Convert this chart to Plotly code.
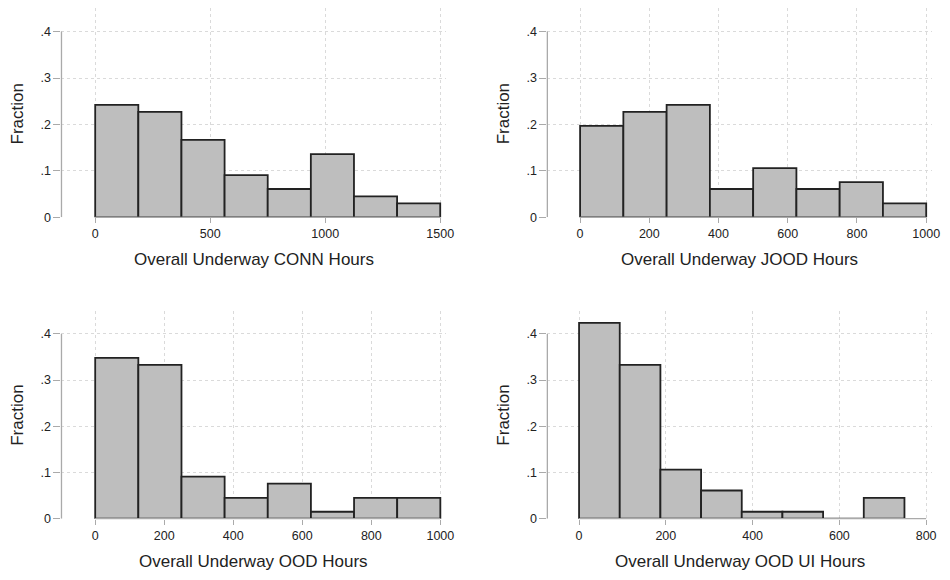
import plotly.graph_objects as go

# ---------------- data ----------------
conn_edges = [0, 187.5, 375, 562.5, 750, 937.5, 1125, 1312.5]
conn_width = 187.5
conn_frac = [0.242, 0.227, 0.167, 0.091, 0.061, 0.136, 0.045, 0.030]

jood_edges = [0, 125, 250, 375, 500, 625, 750, 875]
jood_width = 125
jood_frac = [0.197, 0.227, 0.242, 0.061, 0.106, 0.061, 0.076, 0.030]

ood_edges = [0, 125, 250, 375, 500, 625, 750, 875]
ood_width = 125
ood_frac = [0.348, 0.333, 0.091, 0.045, 0.076, 0.015, 0.045, 0.045]

oodui_edges = [0, 93.75, 187.5, 281.25, 375, 468.75, 562.5, 656.25]
oodui_width = 93.75
oodui_frac = [0.424, 0.333, 0.106, 0.061, 0.015, 0.015, 0.0, 0.045]

y_tickvals = [0, 0.1, 0.2, 0.3, 0.4]
y_ticktext = ["0", ".1", ".2", ".3", ".4"]

conn_xticks = [0, 500, 1000, 1500]
jood_xticks = [0, 200, 400, 600, 800, 1000]
ood_xticks = [0, 200, 400, 600, 800, 1000]
oodui_xticks = [0, 200, 400, 600, 800]

titles = ["Overall Underway CONN Hours", "Overall Underway JOOD Hours",
          "Overall Underway OOD Hours", "Overall Underway OOD UI Hours"]

# ---------------- layout geometry (pixels) ----------------
W, H = 950, 580
panels = [
    dict(edges=conn_edges, w=conn_width, f=conn_frac, xt=conn_xticks,
         xr=[-146.6, 1526], L=62, R=450, T=8, B=220),
    dict(edges=jood_edges, w=jood_width, f=jood_frac, xt=jood_xticks,
         xr=[-94.6, 1017], L=552, R=940, T=8, B=220),
    dict(edges=ood_edges, w=ood_width, f=ood_frac, xt=ood_xticks,
         xr=[-97.7, 1017], L=62, R=450, T=315, B=525),
    dict(edges=oodui_edges, w=oodui_width, f=oodui_frac, xt=oodui_xticks,
         xr=[-73.1, 813.7], L=552, R=940, T=315, B=525),
]

FONT = "Liberation Sans, Arial, Helvetica, sans-serif"
fig = go.Figure()
shapes = []
annotations = []
layout = dict(
    width=W, height=H, margin=dict(l=0, r=0, t=0, b=0),
    paper_bgcolor="white", plot_bgcolor="white", showlegend=False,
    font=dict(family=FONT, color="#222222", size=12),
)

for i, p in enumerate(panels, start=1):
    xa = "x" if i == 1 else f"x{i}"
    ya = "y" if i == 1 else f"y{i}"
    ypx04 = p["T"] + (24 if i <= 2 else 23)  # pixel of the .4 tick
    ytop = 0.4 * (p["B"] - p["T"]) / (p["B"] - ypx04)
    fig.add_trace(go.Bar(
        x=p["edges"], y=p["f"], width=p["w"], offset=0,
        marker=dict(color="#bebebe", line=dict(color="#222222", width=1.8)),
        xaxis=xa, yaxis=ya, hoverinfo="x+y",
    ))
    layout["xaxis" if i == 1 else f"xaxis{i}"] = dict(
        domain=[p["L"] / W, p["R"] / W], range=p["xr"], anchor=ya,
        tickvals=p["xt"], ticktext=[str(v) for v in p["xt"]],
        ticks="outside", ticklen=5, tickcolor="#aaaaaa", tickwidth=1,
        showgrid=True, gridcolor="#dadada", griddash="dot", gridwidth=1,
        showline=False, zeroline=False, tickfont=dict(size=12.5, color="#222"),
    )
    layout["yaxis" if i == 1 else f"yaxis{i}"] = dict(
        domain=[1 - p["B"] / H, 1 - p["T"] / H], range=[0, ytop], anchor=xa,
        tickvals=y_tickvals, ticktext=y_ticktext,
        ticks="outside", ticklen=7, tickcolor="#aaaaaa", tickwidth=1,
        showgrid=True, gridcolor="#dadada", griddash="dot", gridwidth=1,
        showline=False, zeroline=False, tickfont=dict(size=12.5, color="#222"),
    )
    shapes.append(dict(type="line", xref=f"{xa} domain", yref=ya,
                       x0=0, x1=0, y0=0, y1=0.4,
                       line=dict(color="#aaaaaa", width=1.3)))
    shapes.append(dict(type="line", xref=xa, yref=f"{ya} domain",
                       x0=p["xt"][0], x1=p["xt"][-1], y0=0, y1=0,
                       line=dict(color="#aaaaaa", width=1.3)))
    cx = (p["L"] + p["R"]) / 2 / W
    annotations.append(dict(text=titles[i - 1], xref="paper", yref="paper",
                            x=cx, y=1 - (p["B"] + 43) / H, showarrow=False,
                            xanchor="center", yanchor="middle",
                            font=dict(size=17, color="#222")))
    annotations.append(dict(text="Fraction", xref="paper", yref="paper",
                            x=(p["L"] - 44) / W, y=1 - (p["B"] - 105) / H,
                            showarrow=False, textangle=-90,
                            xanchor="center", yanchor="middle",
                            font=dict(size=17, color="#222")))

layout["shapes"] = shapes
layout["annotations"] = annotations
fig.update_layout(**layout)
fig.write_html("out.html")
